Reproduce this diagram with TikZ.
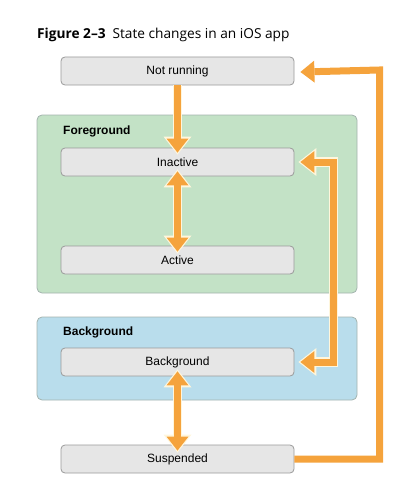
\documentclass[tikz,border=0pt]{standalone}
\usepackage{fontspec}
\setmainfont{Liberation Sans}
\newfontfamily\titlefont{Open Sans}
\usetikzlibrary{arrows.meta}

\definecolor{stategray}{HTML}{E6E6E6}
\definecolor{stateline}{HTML}{9A9A9A}
\definecolor{fggreen}{HTML}{C3E2C6}
\definecolor{bgblue}{HTML}{B9DDEC}
\definecolor{groupline}{HTML}{A3B3AE}
\definecolor{floworange}{HTML}{F5A33C}
\definecolor{flowedge}{HTML}{FFF6DC}

\tikzset{
  state/.style={draw=stateline, fill=stategray, rounded corners=4pt, line width=0.8pt,
    minimum width=233pt, minimum height=28pt, inner sep=0pt,
    font=\fontsize{12}{14}\selectfont},
  grouplabel/.style={anchor=west, inner sep=0pt, font=\fontsize{12}{14}\selectfont\bfseries},
  group/.style={draw=groupline, rounded corners=5pt, line width=0.8pt},
  flow/.style={draw=floworange, line width=7pt},
  flowedge/.style={draw=flowedge, line width=9.5pt},
  tip/.style={arrows={-Triangle[width=22pt 0 0,length=14pt 0 0,line width=0pt 0 0]}},
  tips/.style={arrows={Triangle[width=22pt 0 0,length=14pt 0 0,line width=0pt 0 0]-Triangle[width=22pt 0 0,length=14pt 0 0,line width=0pt 0 0]}},
  edgetip/.style={arrows={-Triangle[width=28pt 0 0,length=18pt 0 0,line width=0pt 0 0]}},
  edgetips/.style={arrows={Triangle[width=28pt 0 0,length=18pt 0 0,line width=0pt 0 0]-Triangle[width=28pt 0 0,length=18pt 0 0,line width=0pt 0 0]}}
}

\begin{document}
\begin{tikzpicture}[x=1pt,y=-1pt]
  \useasboundingbox (0,0) rectangle (420,503);

  % title
  \node[anchor=west, inner sep=0pt, font=\titlefont\fontsize{13.7}{15}\selectfont] (title) at (37,35)
    {\textbf{Figure 2–3}\enspace State changes in an iOS app};

  % groups
  \draw[group, fill=fggreen] (37,115) rectangle (357,293);
  \draw[group, fill=bgblue] (37,317) rectangle (357,400);
  \node[grouplabel] (fglabel) at (63,131) {Foreground};
  \node[grouplabel] (bglabel) at (63,332) {Background};

  % states
  \node[state] (notrun) at (177.5,71) {Not running};
  \node[state] (inactive) at (177.5,162) {Inactive};
  \node[state] (active) at (177.5,260) {Active};
  \node[state] (bgstate) at (177.5,362) {Background};
  \node[state] (suspended) at (177.5,459) {Suspended};

  \coordinate (innertop) at (333.5,162);
  \coordinate (innerbot) at (333.5,362);
  \coordinate (outtop) at (379.5,70);
  \coordinate (outbot) at (379.5,459);

  % light edges under the arrows
  \draw[flowedge, edgetip, shorten >=-2pt] (notrun.south) -- ([yshift=-5pt]inactive.north);
  \draw[flowedge, edgetips, shorten >=-2pt, shorten <=-2pt] ([yshift=5pt]inactive.south) -- ([yshift=-6pt]active.north);
  \draw[flowedge, edgetips, shorten >=-2pt, shorten <=-2pt] ([yshift=5pt]bgstate.south) -- ([yshift=-6pt]suspended.north);
  \draw[flowedge, edgetips, shorten >=-2pt, shorten <=-2pt] ([xshift=6pt]inactive.east) -- (innertop) -- (innerbot) -- ([xshift=6pt]bgstate.east);

  % arrows
  \draw[flow, tip] (notrun.south) -- ([yshift=-5pt]inactive.north);
  \draw[flow, tips] ([yshift=5pt]inactive.south) -- ([yshift=-6pt]active.north);
  \draw[flow, tips] ([yshift=5pt]bgstate.south) -- ([yshift=-6pt]suspended.north);
  \draw[flow, tips] ([xshift=6pt]inactive.east) -- (innertop) -- (innerbot) -- ([xshift=6pt]bgstate.east);
  \draw[flow, tip] (suspended.east) -- (outbot) -- (outtop) -- ([xshift=6pt,yshift=-1pt]notrun.east);

\end{tikzpicture}
\end{document}
